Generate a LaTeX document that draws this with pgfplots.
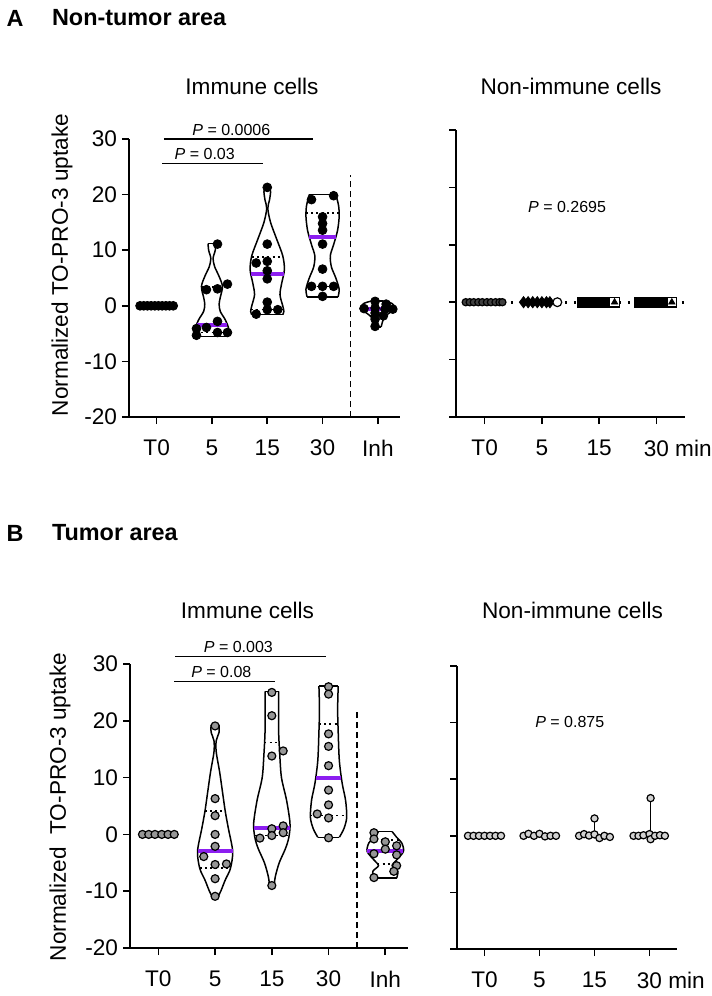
\documentclass[border=0pt]{standalone}
\usepackage{pgfplots}
\pgfplotsset{compat=1.18}
\usepackage{fontspec}
\setmainfont{Liberation Sans}
\definecolor{medpurple}{RGB}{140,30,240}
\definecolor{dotgray}{RGB}{150,150,150}
\definecolor{lightdot}{RGB}{210,210,210}
\newcommand{\fs}{\fontsize{11.3}{13}\selectfont}
\newcommand{\fp}{\fontsize{8}{9.5}\selectfont}
\pgfplotsset{
  base/.style={scale only axis, clip=false, axis lines*=left,
    axis line style={line width=0.8pt, black},
    tick style={line width=0.8pt, black},
    tick align=outside, major tick length=3.5pt,
    ymin=-20, ymax=30, ytick={-20,-10,0,10,20,30},
    xmin=-0.5,
    tick label style={font=\fs},
    xticklabel style={yshift=-4.5pt},
    yticklabel style={xshift=1pt},
  },
  vio/.style={black, line width=0.75pt, no marks},
  vios/.style={black, line width=0.75pt, no marks, smooth, tension=0.5},
  quart/.style={black, line width=0.75pt, dash pattern=on 1pt off 1.6pt, no marks},
  med/.style={medpurple, line width=2pt, no marks},
  blackdot/.style={only marks, mark=*, mark size=2.2pt, mark options={fill=black, draw=black}},
  graydot/.style={only marks, mark=*, mark size=2pt, mark options={fill=dotgray, draw=black, line width=0.6pt}},
  lightd/.style={only marks, mark=*, mark size=1.8pt, mark options={fill=lightdot, draw=black, line width=0.6pt}},
  sep/.style={black, line width=0.7pt, dash pattern=on 3pt off 2pt, no marks},
  pbar/.style={black, line width=0.7pt, no marks},
}
\begin{document}
\begin{tikzpicture}
\path[use as bounding box] (0pt,0pt) rectangle (356pt,-498pt);
% headers
\node[font=\fontsize{11.7}{14}\selectfont\bfseries] at (7.5pt,-9pt) {A};
\node[anchor=west, font=\fontsize{11.7}{14}\selectfont\bfseries] at (22.5pt,-9pt) {Non-tumor area};
\node[font=\fontsize{11.7}{14}\selectfont\bfseries] at (7.5pt,-266.5pt) {B};
\node[anchor=west, font=\fontsize{11.7}{14}\selectfont\bfseries] at (22.5pt,-266.5pt) {Tumor area};
\node[font=\fs] at (126pt,-43pt) {Immune cells};
\node[font=\fs] at (285.5pt,-43pt) {Non-immune cells};
\node[font=\fs] at (123.75pt,-305pt) {Immune cells};
\node[font=\fs] at (286.25pt,-305pt) {Non-immune cells};
\node[rotate=90, font=\fs] at (31pt,-132.5pt) {Normalized TO-PRO-3 uptake};
\node[rotate=90, font=\fs] at (30pt,-403.5pt) {Normalized\ \ TO-PRO-3 uptake};

% ===== A left =====
\begin{axis}[base, at={(64.5pt,-208.5pt)}, anchor=south west,
  width=135.5pt, height=139pt, xmax=4.4,
  xtick={0,1,2,3,4}, xticklabels={T0,5,15,30,Inh},
  yticklabels={-20,-10,0,10,20,30}]
\addplot[sep] coordinates {(3.5,-20) (3.5,23.5)};
% violin 5
\addplot[vios] coordinates {(1.07,11.2) (1.06,10) (1.02,8.5) (1.05,7) (1.12,5.5) (1.19,3.5) (1.15,1.5) (1.13,0.3) (1.15,-1) (1.24,-2.5) (1.30,-4) (1.29,-5) (1.26,-5.5)};
\addplot[vios] coordinates {(0.93,11.2) (0.94,10) (0.98,8.5) (0.95,7) (0.88,5.5) (0.81,3.5) (0.85,1.5) (0.87,0.3) (0.85,-1) (0.76,-2.5) (0.70,-4) (0.71,-5) (0.74,-5.5)};
\addplot[vio] coordinates {(0.93,11.2) (1.07,11.2)};
\addplot[vio] coordinates {(0.74,-5.5) (1.26,-5.5)};
% violin 15
\addplot[vios] coordinates {(2.04,21.5) (2.06,20.5) (2.04,19) (2.01,17.5) (2.06,15) (2.17,12) (2.28,9) (2.31,6.5) (2.26,4) (2.23,2) (2.28,0) (2.30,-1) (2.28,-1.6)};
\addplot[vios] coordinates {(1.96,21.5) (1.94,20.5) (1.96,19) (1.99,17.5) (1.94,15) (1.83,12) (1.72,9) (1.69,6.5) (1.74,4) (1.77,2) (1.72,0) (1.70,-1) (1.72,-1.6)};
\addplot[vio] coordinates {(1.96,21.5) (2.04,21.5)};
\addplot[vio] coordinates {(1.72,-1.6) (2.28,-1.6)};
% violin 30
\addplot[vios] coordinates {(3.24,20) (3.29,18) (3.30,16) (3.27,13.5) (3.20,11) (3.14,9) (3.16,7) (3.24,5) (3.30,3) (3.28,1.6)};
\addplot[vios] coordinates {(2.76,20) (2.71,18) (2.70,16) (2.73,13.5) (2.80,11) (2.86,9) (2.84,7) (2.76,5) (2.70,3) (2.72,1.6)};
\addplot[vio] coordinates {(2.76,20) (3.24,20)};
\addplot[vio] coordinates {(2.72,1.6) (3.28,1.6)};
% violin Inh
\addplot[vios] coordinates {(4.10,0.9) (4.26,0.4) (4.32,-0.5) (4.22,-1.2) (4.12,-2) (4.08,-3) (4.06,-3.8)};
\addplot[vios] coordinates {(3.90,0.9) (3.74,0.4) (3.68,-0.5) (3.78,-1.2) (3.88,-2) (3.92,-3) (3.94,-3.8)};
\addplot[vio] coordinates {(3.90,0.9) (4.10,0.9)};
\addplot[vio] coordinates {(3.94,-3.8) (4.06,-3.8)};
% quartiles
\addplot[quart] coordinates {(0.81,3.4) (1.19,3.4)};
\addplot[quart] coordinates {(0.71,-4.8) (1.29,-4.8)};
\addplot[quart] coordinates {(1.72,8.8) (2.28,8.8)};
\addplot[quart] coordinates {(1.71,-0.7) (2.29,-0.7)};
\addplot[quart] coordinates {(2.70,16.7) (3.30,16.7)};
\addplot[quart] coordinates {(2.71,3.5) (3.29,3.5)};
\addplot[quart] coordinates {(3.70,-0.2) (4.30,-0.2)};
\addplot[quart] coordinates {(3.86,-1.8) (4.14,-1.8)};
% medians
\addplot[med] coordinates {(0.73,-3.4) (1.27,-3.4)};
\addplot[med] coordinates {(1.70,5.7) (2.30,5.7)};
\addplot[med] coordinates {(2.76,12.3) (3.24,12.3)};
\addplot[med] coordinates {(3.68,-0.6) (4.32,-0.6)};
% points
\addplot[blackdot] coordinates {(-0.3,0) (-0.233,0) (-0.167,0) (-0.1,0) (-0.033,0) (0.033,0) (0.1,0) (0.167,0) (0.233,0) (0.3,0)};
\addplot[blackdot] coordinates {(1.10,11.1) (1.28,3.9) (0.90,2.9) (1.10,3.05) (1.10,-2.8) (0.90,-3.9) (0.72,-4.1) (0.72,-5.3) (1.10,-4.8) (1.28,-4.8)};
\addplot[blackdot] coordinates {(2.0,21.3) (2.0,11.1) (1.8,7.7) (2.0,8.0) (2.0,6.3) (2.0,4.85) (2.0,0.66) (1.8,-1.5) (2.0,-0.7) (2.19,-0.7)};
\addplot[blackdot] coordinates {(2.8,19.1) (3.2,19.8) (3.0,16.0) (3.0,14.8) (3.0,13.6) (3.0,11.1) (3.0,6.6) (2.8,3.5) (3.0,3.5) (3.2,3.5) (3.0,1.7)};
\addplot[blackdot] coordinates {(3.95,0.8) (4.15,0.3) (3.75,-0.5) (3.95,-0.4) (4.13,-0.6) (4.27,-0.6) (3.95,-1.3) (4.1,-1.8) (3.95,-2.4) (3.95,-3.7)};
% p bars
\addplot[pbar] coordinates {(0.13,30) (2.82,30)};
\addplot[pbar] coordinates {(0.10,25.6) (1.92,25.6)};
\node[font=\fp, anchor=south, inner sep=1pt] at (axis cs:1.35,30.2) {\textit{P} = 0.0006};
\node[font=\fp, anchor=south, inner sep=1pt] at (axis cs:0.87,25.8) {\textit{P} = 0.03};
\end{axis}

% ===== A right =====
\begin{axis}[base, at={(228pt,-208.5pt)}, anchor=south west,
  width=114.5pt, height=143.5pt, xmax=3.5,
  xtick={0,1,2,3}, xticklabels={T0,5,15,{30\rlap{ min}}},
  yticklabels={}]
\addplot[black, line width=1.3pt, dash pattern=on 1.3pt off 3.2pt, no marks] coordinates {(0.3,0) (3.5,0)};
\addplot[only marks, mark=*, mark size=1.8pt, mark options={fill=black!75, draw=black, line width=0.6pt}] coordinates {(-0.33,0) (-0.26,0) (-0.19,0) (-0.11,0) (-0.04,0) (0.04,0) (0.11,0) (0.19,0) (0.26,0) (0.31,0)};
\addplot[only marks, mark=diamond*, mark size=2.8pt, mark options={fill=black, draw=black}] coordinates {(0.68,0) (0.76,0) (0.84,0) (0.92,0) (1.0,0) (1.08,0) (1.14,0)};
\addplot[only marks, mark=*, mark size=2.2pt, mark options={fill=white, draw=black, line width=0.6pt}] coordinates {(1.27,0)};
\addplot[only marks, mark=square*, mark size=2.4pt, mark options={fill=black, draw=black}] coordinates {(1.70,0) (1.78,0) (1.86,0) (1.94,0) (2.02,0) (2.10,0) (2.18,0)};
\addplot[only marks, mark=square*, mark size=2.4pt, mark options={fill=white, draw=black, line width=0.6pt}] coordinates {(2.27,0)};
\addplot[only marks, mark=triangle*, mark size=1.8pt, mark options={fill=black, draw=black}] coordinates {(2.27,0)};
\addplot[only marks, mark=square*, mark size=2.4pt, mark options={fill=black, draw=black}] coordinates {(2.70,0) (2.78,0) (2.86,0) (2.94,0) (3.02,0) (3.10,0) (3.18,0)};
\addplot[only marks, mark=square*, mark size=2.4pt, mark options={fill=white, draw=black, line width=0.6pt}] coordinates {(3.27,0)};
\addplot[only marks, mark=triangle*, mark size=1.8pt, mark options={fill=black, draw=black}] coordinates {(3.27,0)};
\node[font=\fp] at (axis cs:1.44,16.6) {\textit{P} = 0.2695};
\end{axis}

% ===== B left =====
\begin{axis}[base, at={(65pt,-474pt)}, anchor=south west,
  width=139pt, height=142pt, xmax=4.4,
  xtick={0,1,2,3,4}, xticklabels={T0,5,15,30,Inh},
  yticklabels={-20,-10,0,10,20,30}]
\addplot[sep] coordinates {(3.5,-20) (3.5,22)};
% violin 5
\addplot[vios] coordinates {(1.07,19.3) (1.07,18) (1.02,16.5) (1.02,14.5) (1.08,11) (1.13,7.5) (1.18,4) (1.235,1) (1.31,-3) (1.27,-6) (1.18,-8) (1.10,-10) (1.05,-11)};
\addplot[vios] coordinates {(0.93,19.3) (0.93,18) (0.98,16.5) (0.98,14.5) (0.92,11) (0.87,7.5) (0.82,4) (0.765,1) (0.69,-3) (0.73,-6) (0.82,-8) (0.90,-10) (0.95,-11)};
\addplot[vio] coordinates {(0.93,19.3) (1.07,19.3)};
\addplot[vio] coordinates {(0.95,-11) (1.05,-11)};
% violin 15
\addplot[vios] coordinates {(2.12,25.2) (2.12,22) (2.12,18) (2.14,14) (2.17,10) (2.26,6) (2.32,2) (2.30,-0.5) (2.24,-2.5) (2.13,-5) (2.06,-7.5) (2.04,-9.2)};
\addplot[vios] coordinates {(1.88,25.2) (1.88,22) (1.88,18) (1.86,14) (1.83,10) (1.74,6) (1.68,2) (1.70,-0.5) (1.76,-2.5) (1.87,-5) (1.94,-7.5) (1.96,-9.2)};
\addplot[vio] coordinates {(1.88,25.2) (2.12,25.2)};
\addplot[vio] coordinates {(1.96,-9.2) (2.04,-9.2)};
% violin 30
\addplot[vios] coordinates {(3.17,26.1) (3.16,22) (3.17,18) (3.19,13) (3.24,9) (3.30,6) (3.32,3) (3.27,1) (3.19,-0.5)};
\addplot[vios] coordinates {(2.83,26.1) (2.84,22) (2.83,18) (2.81,13) (2.76,9) (2.70,6) (2.68,3) (2.73,1) (2.81,-0.5)};
\addplot[vio] coordinates {(2.83,26.1) (3.17,26.1)};
\addplot[vio] coordinates {(2.81,-0.5) (3.19,-0.5)};
% violin Inh
\addplot[vios] coordinates {(4.12,0.5) (4.20,-0.5) (4.29,-1.5) (4.32,-3) (4.20,-4.5) (4.12,-5.5) (4.22,-6.5) (4.20,-7.7)};
\addplot[vios] coordinates {(3.88,0.5) (3.80,-0.5) (3.71,-1.5) (3.68,-3) (3.80,-4.5) (3.88,-5.5) (3.78,-6.5) (3.80,-7.7)};
\addplot[vio] coordinates {(3.88,0.5) (4.12,0.5)};
\addplot[vio] coordinates {(3.80,-7.7) (4.20,-7.7)};
% quartiles
\addplot[quart] coordinates {(0.82,4.1) (1.18,4.1)};
\addplot[quart] coordinates {(0.73,-5.9) (1.27,-5.9)};
\addplot[quart] coordinates {(1.87,16.2) (2.13,16.2)};
\addplot[quart] coordinates {(1.70,-0.2) (2.30,-0.2)};
\addplot[quart] coordinates {(2.83,19.4) (3.17,19.4)};
\addplot[quart] coordinates {(2.68,3.3) (3.32,3.3)};
\addplot[quart] coordinates {(3.74,-1.0) (4.26,-1.0)};
\addplot[quart] coordinates {(3.86,-5.2) (4.14,-5.2)};
% medians
\addplot[med] coordinates {(0.69,-2.9) (1.31,-2.9)};
\addplot[med] coordinates {(1.68,1.1) (2.32,1.1)};
\addplot[med] coordinates {(2.78,10.0) (3.22,10.0)};
\addplot[med] coordinates {(3.68,-3.0) (4.32,-3.0)};
% points
\addplot[graydot] coordinates {(-0.28,0) (-0.17,0) (-0.06,0) (0.06,0) (0.17,0) (0.28,0)};
\addplot[graydot] coordinates {(1.0,19.1) (1.0,6.3) (1.0,3.3) (1.0,0) (1.0,-2.1) (0.8,-3.9) (1.0,-5.3) (1.2,-5.2) (1.0,-7.8) (1.0,-10.9)};
\addplot[graydot] coordinates {(2.0,25.0) (2.0,20.9) (2.2,14.7) (2.0,13.8) (2.2,1.5) (2.0,1.0) (2.2,0.3) (2.0,-0.2) (1.79,-0.65) (2.0,-9.0)};
\addplot[graydot] coordinates {(3.0,26.0) (3.0,24.7) (3.0,17.7) (3.0,15.5) (3.0,12.1) (3.0,7.8) (3.0,5.2) (2.8,3.6) (3.0,2.9) (3.0,-0.6)};
\addplot[graydot] coordinates {(3.8,0.3) (3.8,-0.8) (4.0,-1.3) (4.2,-2.0) (3.8,-3.4) (4.0,-2.6) (4.2,-3.6) (4.2,-5.5) (4.15,-6.5) (3.8,-7.6)};
% p bars
\addplot[pbar] coordinates {(0.30,31.3) (2.95,31.3)};
\addplot[pbar] coordinates {(0.28,26.9) (2.06,26.9)};
\node[font=\fp, anchor=south, inner sep=1pt] at (axis cs:1.41,31.5) {\textit{P} = 0.003};
\node[font=\fp, anchor=south, inner sep=1pt] at (axis cs:1.11,27.1) {\textit{P} = 0.08};
\end{axis}

% ===== B right =====
\begin{axis}[base, at={(228.5pt,-474.5pt)}, anchor=south west,
  width=110pt, height=141.5pt, xmax=3.5,
  xtick={0,1,2,3}, xticklabels={T0,5,15,{30\rlap{ min}}},
  yticklabels={}]
\addplot[black, line width=0.75pt, no marks] coordinates {(2.0,0.3) (2.0,3.07)};
\addplot[black, line width=0.75pt, no marks] coordinates {(1.93,3.07) (2.0,3.07)};
\addplot[black, line width=0.75pt, no marks] coordinates {(3.02,0.3) (3.02,6.66)};
\addplot[black, line width=0.75pt, no marks] coordinates {(2.95,6.66) (3.02,6.66)};
\addplot[lightd] coordinates {(-0.3,0) (-0.2,0) (-0.1,0) (0,0) (0.1,0) (0.2,0) (0.3,0)};
\addplot[lightd] coordinates {(0.71,0) (0.8,0.35) (0.9,0) (1.0,0.35) (1.1,-0.1) (1.2,0) (1.3,0)};
\addplot[lightd] coordinates {(1.72,0) (1.81,0.3) (1.9,0.05) (2.0,0.25) (2.09,-0.4) (2.18,0) (2.28,-0.2) (2.0,3.07)};
\addplot[lightd] coordinates {(2.71,0) (2.8,0) (2.89,0.1) (3.0,0.3) (3.02,-0.6) (3.1,0) (3.19,0.1) (3.28,0) (3.02,6.66)};
\node[font=\fp] at (axis cs:1.55,20.1) {\textit{P} = 0.875};
\end{axis}
\end{tikzpicture}
\end{document}
